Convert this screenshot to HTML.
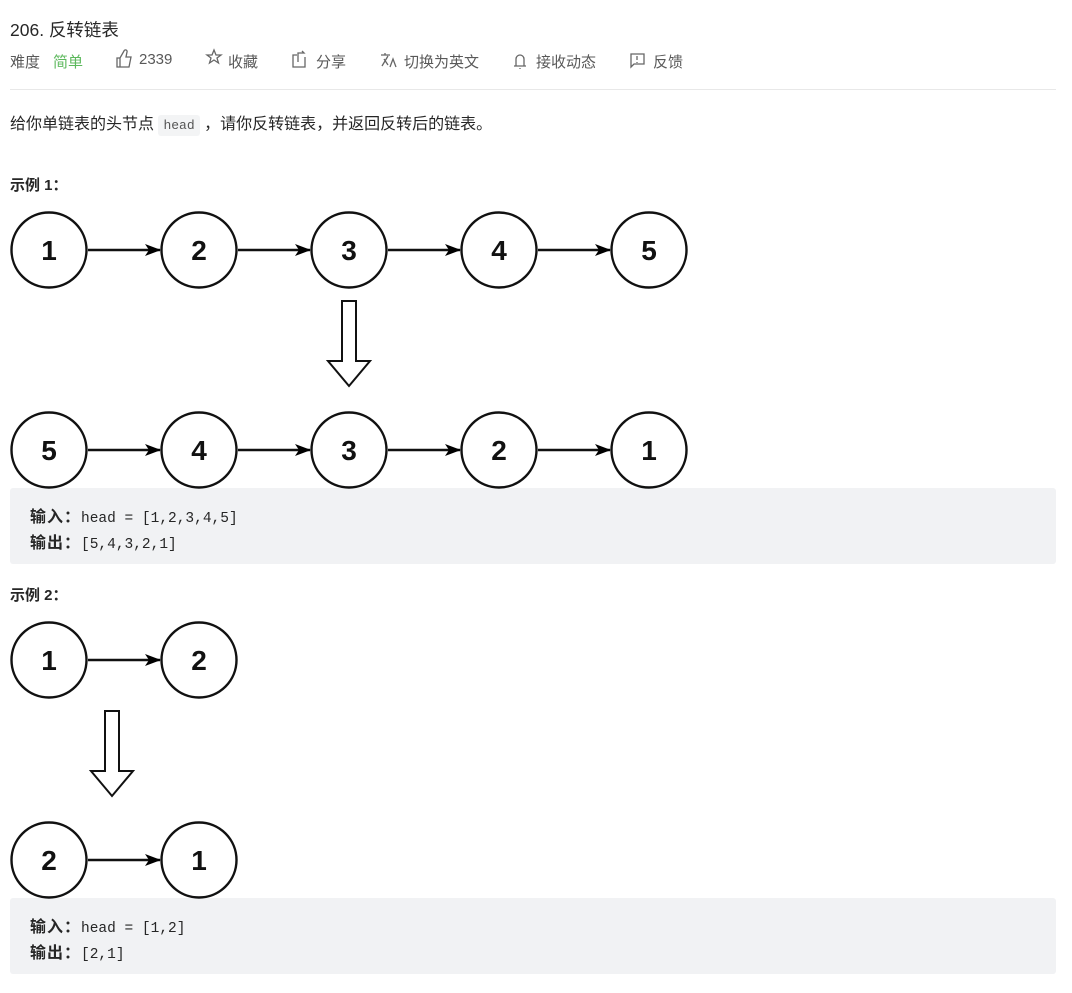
<!DOCTYPE html>
<html><head><meta charset="utf-8"><style>
body{margin:0;width:1072px;height:993px;background:#fff;position:relative;overflow:hidden;font-family:"Liberation Sans","Noto Sans CJK SC",sans-serif;color:#262626}
.a{position:absolute;white-space:nowrap}
.t{font-size:15px;color:#595959}
.box{position:absolute;left:10px;width:1046px;background:#f1f2f4;border-radius:3px}
.code{position:absolute;left:30px;font-family:"Liberation Mono","Noto Sans CJK SC",monospace;font-size:14.5px;color:#262626}
.code b{font-family:"Liberation Sans","Noto Sans CJK SC",sans-serif;font-weight:bold;color:#262626;font-size:16px;letter-spacing:1px}
svg{position:absolute;left:0;top:0}
</style></head><body>
<div class="a" style="left:10px;top:17px;font-size:17.5px;color:#262626">206. 反转链表</div>
<div class="a t" style="left:10px;top:51px">难度</div>
<div class="a t" style="left:53px;top:51px;color:#5cb85c">简单</div>
<div class="a t" style="left:139px;top:51px">2339</div>
<div class="a t" style="left:228px;top:51px">收藏</div>
<div class="a t" style="left:316px;top:51px">分享</div>
<div class="a t" style="left:404px;top:51px">切换为英文</div>
<div class="a t" style="left:536px;top:51px">接收动态</div>
<div class="a t" style="left:653px;top:51px">反馈</div>
<div class="a" style="left:10px;top:89px;width:1046px;height:1px;background:#e8e8e8"></div>
<div class="a" style="left:10px;top:110px;font-size:16px;color:#262626">给你单链表的头节点 <span style="font-family:'Liberation Mono',monospace;font-size:13px;background:#f3f4f5;color:#555;padding:3px 5px;border-radius:3px">head</span> ，请你反转链表，并返回反转后的链表。</div>
<div class="a" style="left:10px;top:174px;font-size:15px;font-weight:bold">示例 1：</div>
<div class="a" style="left:10px;top:584px;font-size:15px;font-weight:bold">示例 2：</div>
<div class="box" style="top:488px;height:76px"></div>
<div class="code" style="top:503px"><b>输入：</b>head = [1,2,3,4,5]</div>
<div class="code" style="top:529px"><b>输出：</b>[5,4,3,2,1]</div>
<div class="box" style="top:898px;height:76px"></div>
<div class="code" style="top:913px"><b>输入：</b>head = [1,2]</div>
<div class="code" style="top:939px"><b>输出：</b>[2,1]</div>
<svg width="1072" height="993" font-family="Liberation Sans,sans-serif" font-weight="bold" font-size="28">
<defs><marker id="m" markerWidth="16" markerHeight="12" refX="15" refY="6" orient="auto" markerUnits="userSpaceOnUse"><path d="M0,0 L16,6 L0,12 L4,6 Z" fill="#000"/></marker></defs>
<g stroke="#666" stroke-width="1.3" fill="none">
<path d="M117,67 v-9 h3 l4,-7 a1.5,1.5 0 0 1 3,1 l-1,5 h5 l-2,10 z M120,58 v9"/>
<path d="M212,55 l2,-5 l2,5 h5 l-4,3 l1.5,5 l-4.5,-3 l-4.5,3 l1.5,-5 l-4,-3z"/>
<path d="M297,55 h-4 v12 h12 v-10 M298,62 v-9 h6 l-2,-2"/>
<path d="M514,66 h12 M516,66 v-7 a4,4 0 0 1 8,0 v7 M520,68 v1"/>
<path d="M631,54 h13 v10 h-10 l-3,3z M637,56 v4 M637,62 v1"/>
<path d="M381,55 h9 M385,53 v2 M382,66 l6,-10 M384,59 l4,6 M390,67 l3,-8 l3,8"/>
</g>
<g stroke="#111" stroke-width="2.4" fill="#fff">
<circle cx="49" cy="250" r="37.5"/><circle cx="199" cy="250" r="37.5"/><circle cx="349" cy="250" r="37.5"/><circle cx="499" cy="250" r="37.5"/><circle cx="649" cy="250" r="37.5"/>
<circle cx="49" cy="450" r="37.5"/><circle cx="199" cy="450" r="37.5"/><circle cx="349" cy="450" r="37.5"/><circle cx="499" cy="450" r="37.5"/><circle cx="649" cy="450" r="37.5"/>
<circle cx="49" cy="660" r="37.5"/><circle cx="199" cy="660" r="37.5"/>
<circle cx="49" cy="860" r="37.5"/><circle cx="199" cy="860" r="37.5"/>
</g>
<g stroke="#111" stroke-width="2.4" marker-end="url(#m)">
<line x1="88" y1="250" x2="160" y2="250"/><line x1="238" y1="250" x2="310" y2="250"/><line x1="388" y1="250" x2="460" y2="250"/><line x1="538" y1="250" x2="610" y2="250"/>
<line x1="88" y1="450" x2="160" y2="450"/><line x1="238" y1="450" x2="310" y2="450"/><line x1="388" y1="450" x2="460" y2="450"/><line x1="538" y1="450" x2="610" y2="450"/>
<line x1="88" y1="660" x2="160" y2="660"/><line x1="88" y1="860" x2="160" y2="860"/>
</g>
<g stroke="#111" stroke-width="2" fill="#fff">
<path d="M342,301 h14 v60 h14 l-21,25 l-21,-25 h14 z"/>
<path d="M105,711 h14 v60 h14 l-21,25 l-21,-25 h14 z"/>
</g>
<g fill="#111" text-anchor="middle">
<text x="49" y="260">1</text><text x="199" y="260">2</text><text x="349" y="260">3</text><text x="499" y="260">4</text><text x="649" y="260">5</text>
<text x="49" y="460">5</text><text x="199" y="460">4</text><text x="349" y="460">3</text><text x="499" y="460">2</text><text x="649" y="460">1</text>
<text x="49" y="670">1</text><text x="199" y="670">2</text>
<text x="49" y="870">2</text><text x="199" y="870">1</text>
</g>
</svg>
</body></html>
